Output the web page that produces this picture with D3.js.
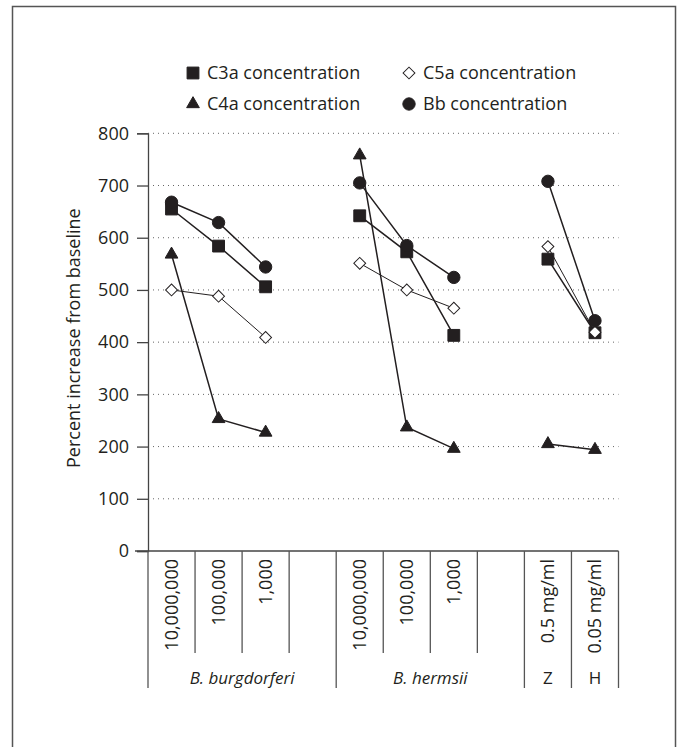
<!DOCTYPE html>
<html>
<head>
<meta charset="utf-8">
<script src="https://cdn.jsdelivr.net/npm/d3@7"></script>
<style>
    body { margin: 0; background: #fff; }
    text { font-family: 'Open Sans', sans-serif; fill: #231f20; }
</style>
</head>
<body>
<div id="chart"></div>
<script>
'use strict';

// columns on the x axis ('' = empty spacer column)
var categories = ['10,000,000', '100,000', '1,000', '', '10,000,000', '100,000', '1,000', '', '0.5 mg/ml', '0.05 mg/ml'];
var groupLabels = ['B. burgdorferi', 'B. hermsii', 'Z', 'H'];
var groupSpans = [4, 4, 1, 1];
var yTicks = [0, 100, 200, 300, 400, 500, 600, 700, 800];

var seriesNames = ['C3a concentration', 'C5a concentration', 'C4a concentration', 'Bb concentration'];
var c3a = [655, 584, 506, null, 642, 573, 413, null, 559, 418];
var c5a = [500, 488, 409, null, 551, 500, 465, null, 583, 419];
var c4a = [568, 253, 227, null, 758, 237, 196, null, 205, 194];
var bb  = [668, 629, 544, null, 705, 585, 524, null, 708, 441];

var width = 681, height = 747;
var x0 = 148, x1 = 618.5, yTop = 133.3, yBottom = 551;

var svg = d3.select('#chart').append('svg')
    .attr('width', width)
    .attr('height', height);

// outer frame
svg.append('rect')
    .attr('x', 12.5).attr('y', 6.5)
    .attr('width', 663).attr('height', 760)
    .attr('fill', 'none')
    .attr('stroke', '#555')
    .attr('stroke-width', 1.5);

var x = d3.scaleBand()
    .domain(d3.range(categories.length))
    .range([x0, x1])
    .padding(0);

var y = d3.scaleLinear()
    .domain([0, 800])
    .range([yBottom, yTop]);

// dotted grid
svg.append('g')
    .selectAll('line')
    .data(yTicks.slice(1))
    .enter().append('line')
        .attr('x1', x0).attr('x2', x1)
        .attr('y1', function(d) { return y(d); })
        .attr('y2', function(d) { return y(d); })
        .attr('stroke', '#666')
        .attr('stroke-width', 1)
        .attr('stroke-dasharray', '1,4');

// y axis
var yAxis = svg.append('g')
    .attr('transform', 'translate(' + x0 + ',0)')
    .call(d3.axisLeft(y).tickValues(yTicks).tickSize(11).tickPadding(8).tickFormat(d3.format('d')));
yAxis.select('.domain').attr('stroke', '#444').attr('stroke-width', 1.3);
yAxis.selectAll('.tick line').attr('stroke', '#444').attr('stroke-width', 1.3);
yAxis.selectAll('text')
    .attr('font-family', "'Open Sans', sans-serif")
    .attr('font-size', '18px')
    .attr('fill', '#231f20');

svg.append('text')
    .attr('transform', 'translate(80,' + ((yTop + yBottom) / 2 - 4) + ') rotate(-90)')
    .attr('text-anchor', 'middle')
    .attr('font-size', '18px')
    .text('Percent increase from baseline');

// x axis line
svg.append('line')
    .attr('x1', x0 - 13).attr('x2', x1)
    .attr('y1', yBottom).attr('y2', yBottom)
    .attr('stroke', '#444')
    .attr('stroke-width', 1.3);

// column separators: long at group boundaries, short inside groups
var groupEdges = [0];
groupSpans.forEach(function(s, i) { groupEdges.push(groupEdges[i] + s); });

svg.append('g')
    .selectAll('line')
    .data(d3.range(categories.length + 1))
    .enter().append('line')
        .attr('x1', function(i) { return x0 + i * x.bandwidth(); })
        .attr('x2', function(i) { return x0 + i * x.bandwidth(); })
        .attr('y1', yBottom)
        .attr('y2', function(i) { return groupEdges.indexOf(i) >= 0 ? 688 : 653; })
        .attr('stroke', '#555')
        .attr('stroke-width', 1.3);

svg.append('g')
    .selectAll('text')
    .data(categories)
    .enter().append('text')
        .attr('transform', function(d, i) {
            return 'translate(' + (x(i) + x.bandwidth() / 2 + 6.5) + ',' + (yBottom + 8) + ') rotate(-90)';
        })
        .attr('text-anchor', 'end')
        .attr('font-size', '18px')
        .text(function(d) { return d; });

svg.append('g')
    .selectAll('text')
    .data(groupLabels)
    .enter().append('text')
        .attr('x', function(d, i) { return x0 + (groupEdges[i] + groupEdges[i + 1]) / 2 * x.bandwidth(); })
        .attr('y', 684)
        .attr('text-anchor', 'middle')
        .attr('font-size', '17px')
        .attr('font-style', function(d, i) { return i < 2 ? 'italic' : 'normal'; })
        .text(function(d) { return d; });

// series
var series = [
    { name: seriesNames[0], values: c3a, shape: d3.symbolSquare, size: 140, rotate: 0, fill: '#231f20', lw: 1.5 },
    { name: seriesNames[1], values: c5a, shape: d3.symbolSquare, size: 70, rotate: 45, fill: '#fff', lw: 1 },
    { name: seriesNames[2], values: c4a, shape: d3.symbolTriangle, size: 70, rotate: 0, fill: '#231f20', lw: 1.5 },
    { name: seriesNames[3], values: bb, shape: d3.symbolCircle, size: 120, rotate: 0, fill: '#231f20', lw: 1.5 }
];

var line = d3.line()
    .defined(function(d) { return d !== null; })
    .x(function(d, i) { return x(i) + x.bandwidth() / 2; })
    .y(function(d) { return y(d); });

series.forEach(function(s) {
    svg.append('path')
        .attr('d', line(s.values))
        .attr('fill', 'none')
        .attr('stroke', '#231f20')
        .attr('stroke-width', s.lw);
});

series.forEach(function(s) {
    svg.append('g')
        .selectAll('path')
        .data(s.values.map(function(v, i) { return { v: v, i: i }; }).filter(function(d) { return d.v !== null; }))
        .enter().append('path')
            .attr('d', d3.symbol().type(s.shape).size(s.size))
            .attr('transform', function(d) {
                return 'translate(' + (x(d.i) + x.bandwidth() / 2) + ',' + y(d.v) + ') rotate(' + s.rotate + ')';
            })
            .attr('fill', s.fill)
            .attr('stroke', '#231f20')
            .attr('stroke-width', 1);
});

// legend, two columns
var legendPos = [[193, 73], [409, 73], [193, 104], [409, 104]];
var legend = svg.append('g')
    .selectAll('g')
    .data(series)
    .enter().append('g')
        .attr('transform', function(d, i) { return 'translate(' + legendPos[i][0] + ',' + legendPos[i][1] + ')'; });

legend.append('path')
    .attr('d', function(d) { return d3.symbol().type(d.shape).size(d.size)(); })
    .attr('transform', function(d) { return 'rotate(' + d.rotate + ')'; })
    .attr('fill', function(d) { return d.fill; })
    .attr('stroke', '#231f20')
    .attr('stroke-width', 1);

legend.append('text')
    .attr('x', 14)
    .attr('dy', '0.35em')
    .attr('font-size', '18px')
    .text(function(d) { return d.name; });
</script>
</body>
</html>
